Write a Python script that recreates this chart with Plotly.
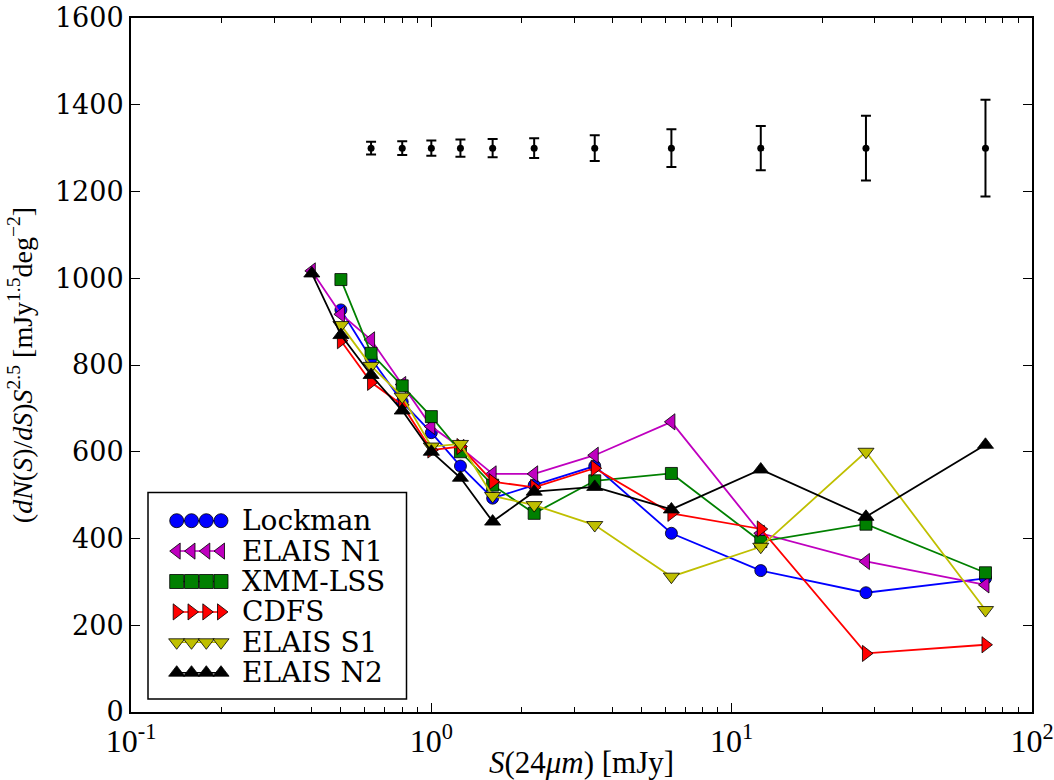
import plotly.graph_objects as go

# flux bins (mJy)
S_all = [0.4, 0.5, 0.63, 0.8, 1.0, 1.25, 1.6, 2.2, 3.5, 6.3, 12.5, 28, 70]
S_from05 = S_all[1:]

lockman = [927, 815, 715, 644, 567, 493, 523, 567, 412, 326, 275, 308]
elais_n1 = [1017, 917, 858, 755, 658, 610, 549, 549, 592, 669, 412, 347, 293]
xmm_lss = [997, 827, 752, 681, 600, 523, 458, 533, 550, 393, 433, 321]
cdfs = [856, 760, 708, 604, 612, 531, 518, 562, 458, 422, 135, 155]
elais_s1 = [892, 798, 727, 612, 618, 498, 477, 431, 312, 381, 600, 235]
elais_n2 = [1011, 869, 777, 695, 600, 540, 439, 508, 519, 467, 559, 450, 616]

# typical error bars
err_x = S_all[2:]
err_y = [1300] * 11
err_size = [14.6, 16, 17.7, 20, 21, 23, 29.6, 43.8, 51, 74.5, 111.4]

names = ["Lockman", "ELAIS N1", "XMM-LSS", "CDFS", "ELAIS S1", "ELAIS N2"]
xs_list = [S_from05, S_all, S_from05, S_from05, S_from05, S_all]
ys_list = [lockman, elais_n1, xmm_lss, cdfs, elais_s1, elais_n2]
colors = ["#0000ff", "#bf00bf", "#008000", "#ff0000", "#bfbf00", "#000000"]
symbols = ["circle", "triangle-left", "square", "triangle-right", "triangle-down", "triangle-up"]
sizes = [12, 14, 12, 14, 14, 14]

W, H = 1054, 780
L, R, T, B = 131, 22, 18, 68
PW, PH = W - L - R, H - T - B


def fx(px):  # pixel -> paper fraction
    return (px - L) / PW


def fy(py):
    return (H - B - py) / PH


fig = go.Figure()
for name, xs, ys, col, sym, sz in zip(names, xs_list, ys_list, colors, symbols, sizes):
    fig.add_trace(go.Scatter(
        x=xs, y=ys, name=name, mode="lines+markers", showlegend=False,
        line=dict(color=col, width=1.8),
        marker=dict(symbol=sym, size=sz, color=col, line=dict(color="black", width=0.8)),
    ))

fig.add_trace(go.Scatter(
    x=err_x, y=err_y, mode="markers", showlegend=False,
    marker=dict(symbol="circle", size=7, color="black"),
    error_y=dict(type="data", array=err_size, visible=True, color="black", thickness=2, width=5),
))

# minor tick carriers (invisible)
minor_vals = [m * 10 ** d for d in (-1, 0, 1) for m in range(2, 10)]
fig.add_trace(go.Scatter(x=[0.2], y=[-100], xaxis="x2", mode="markers",
                         marker=dict(opacity=0), showlegend=False, hoverinfo="skip"))
fig.add_trace(go.Scatter(x=[0.2], y=[-100], xaxis="x4", mode="markers",
                         marker=dict(opacity=0), showlegend=False, hoverinfo="skip"))

# legend box (matplotlib style: 4 markers per entry)
leg_box = dict(x0=148, x1=406.5, y0=492.5, y1=699)
leg_row0, leg_step = 520.7, 30.4
leg_mx = [176.7, 191.5, 206.3, 221]
leg_tx = 240

fig.add_shape(type="rect", xref="paper", yref="paper",
              x0=fx(leg_box["x0"]), x1=fx(leg_box["x1"]),
              y0=fy(leg_box["y1"]), y1=fy(leg_box["y0"]),
              line=dict(color="black", width=1.5), fillcolor="white", layer="below")

annotations = []
for i, (name, col, sym) in enumerate(zip(names, colors, symbols)):
    py = leg_row0 + i * leg_step
    fig.add_trace(go.Scatter(
        x=[fx(p) for p in leg_mx], y=[fy(py)] * 4, xaxis="x3", yaxis="y3",
        mode="lines+markers", showlegend=False, hoverinfo="skip",
        line=dict(color=col, width=1.5),
        marker=dict(symbol=sym, size=14, color=col, line=dict(color="black", width=0.8)),
    ))
    annotations.append(dict(
        x=fx(leg_tx), y=fy(py), xref="paper", yref="paper", text=name,
        showarrow=False, xanchor="left", yanchor="middle",
        font=dict(family="DejaVu Serif", size=28, color="black"),
    ))

serif = "DejaVu Serif"
cm = "Liberation Serif"

fig.update_layout(
    width=W, height=H,
    paper_bgcolor="white", plot_bgcolor="white",
    margin=dict(l=L, r=R, t=T, b=B),
    showlegend=False,
    annotations=annotations,
    xaxis=dict(
        type="log", range=[-1, 2], automargin=False,
        tickvals=[0.1, 1, 10, 100],
        ticktext=["10<sup>-1</sup>", "10<sup>0</sup>", "10<sup>1</sup>", "10<sup>2</sup>"],
        ticks="inside", ticklen=9, tickwidth=1, tickcolor="black",
        showline=True, linecolor="black", linewidth=2, mirror="ticks",
        showgrid=False, zeroline=False,
        tickfont=dict(family=cm, size=32, color="black"),
        title=dict(text="<i>S</i>(24<i>μm</i>) [mJy]", font=dict(family=cm, size=31, color="black"), standoff=2),
    ),
    xaxis2=dict(
        type="log", range=[-1, 2], overlaying="x", anchor="y", side="bottom",
        tickvals=minor_vals, ticks="inside", ticklen=5, tickwidth=1, tickcolor="black",
        showticklabels=False, showgrid=False, zeroline=False, showline=False,
    ),
    xaxis4=dict(
        type="log", range=[-1, 2], overlaying="x", anchor="y", side="top",
        tickvals=minor_vals, ticks="inside", ticklen=5, tickwidth=1, tickcolor="black",
        showticklabels=False, showgrid=False, zeroline=False, showline=False,
    ),
    xaxis3=dict(range=[0, 1], overlaying="x", anchor="y3", visible=False, fixedrange=True),
    yaxis3=dict(range=[0, 1], overlaying="y", anchor="x3", visible=False, fixedrange=True),
    yaxis=dict(
        range=[0, 1600], tickvals=list(range(0, 1601, 200)), automargin=False,
        ticks="inside", ticklen=9, tickwidth=1, tickcolor="black",
        showline=True, linecolor="black", linewidth=2, mirror="ticks",
        showgrid=False, zeroline=False,
        tickfont=dict(family=serif, size=27, color="black"),
        title=dict(text="(<i>dN</i>(<i>S</i>)/<i>dS</i>)<i>S</i><sup>2.5</sup> [mJy<sup>1.5</sup>deg<sup>−2</sup>]",
                   font=dict(family=cm, size=28, color="black"), standoff=14),
    ),
)

# remove the default 8px page margin so the figure fills the window exactly
fig.write_html("out.html", config={"displayModeBar": False},
               post_script="document.body.style.margin='0';")
